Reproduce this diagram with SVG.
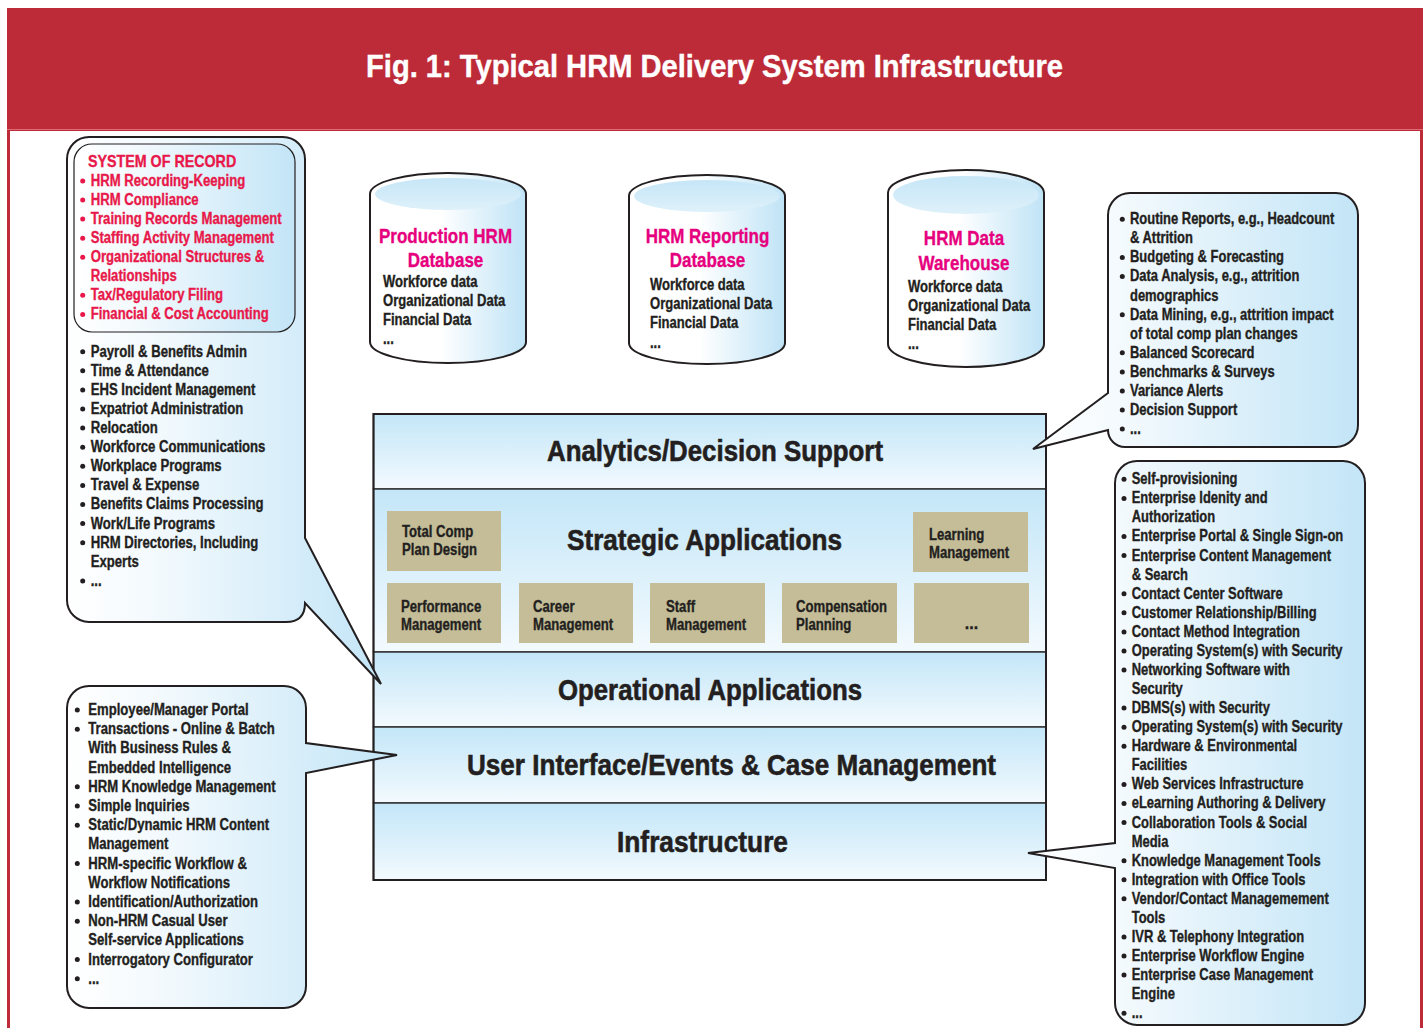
<svg xmlns="http://www.w3.org/2000/svg" width="1428" height="1028" viewBox="0 0 1428 1028">
<defs>
<linearGradient id="gCo" x1="0" y1="0" x2="1" y2="0"><stop offset="0" stop-color="#ffffff"/><stop offset="0.3" stop-color="#f2f9fd"/><stop offset="1" stop-color="#c3e5f7"/></linearGradient>
<linearGradient id="gCyl" x1="0" y1="0" x2="1" y2="0"><stop offset="0" stop-color="#ffffff"/><stop offset="0.45" stop-color="#ffffff"/><stop offset="1" stop-color="#bfe3f6"/></linearGradient>
<linearGradient id="gTop" x1="0" y1="0" x2="0" y2="1"><stop offset="0" stop-color="#c6e6f7"/><stop offset="1" stop-color="#def1fa"/></linearGradient>
<linearGradient id="gBand" x1="0" y1="0" x2="0" y2="1"><stop offset="0" stop-color="#c3e6f8"/><stop offset="1" stop-color="#f3fafe"/></linearGradient>
<style>
.t{font-family:'Liberation Sans',Arial,sans-serif;font-weight:bold;font-size:16px;fill:#231f20;stroke:#231f20;stroke-width:0.35}
.sor{fill:#e8194a;stroke:#e8194a}
.mag{fill:#e6007e;stroke:#e6007e;font-size:21px}
.big{font-size:30px;text-anchor:middle;stroke-width:0.6}
.mid{text-anchor:middle}
.title{font-family:'Liberation Sans',Arial,sans-serif;font-weight:bold;font-size:31px;fill:#ffffff;stroke:#ffffff;stroke-width:0.4;text-anchor:middle}
.co{fill:url(#gCo);stroke:#231f20;stroke-width:2;stroke-linejoin:miter}
.cyl{fill:url(#gCyl);stroke:#231f20;stroke-width:2}
.cyltop{fill:url(#gTop)}
.band{fill:url(#gBand);stroke:#333333;stroke-width:1.5}
.box{fill:#c4bd97}
.b{fill:#231f20}
.bs{fill:#e8194a}
</style>
</defs>

<!-- frame and title -->
<g id="frame">
<rect x="7" y="8" width="1416" height="1030" fill="#be2b38"/>
<rect x="10" y="131" width="1410" height="910" fill="#ffffff"/>
<line x1="7" y1="129.5" x2="1423" y2="129.5" stroke="#dd6a74" stroke-width="1"/>
<text class="title" x="714.5" y="77" textLength="697" lengthAdjust="spacingAndGlyphs">Fig. 1: Typical HRM Delivery System Infrastructure</text>
</g>

<!-- cylinders -->
<g id="db-production">
<path class="cyl" d="M370,194 A78,21 0 0,1 526,194 V342 A78,21 0 0,1 370,342 Z"/>
<ellipse class="cyltop" cx="448" cy="194" rx="73" ry="16"/>
<g transform="translate(445.5,0) scale(0.81,1)">
<text class="t mag mid" x="0" y="242.7">Production HRM</text>
<text class="t mag mid" x="0" y="267.3">Database</text>
</g>
<g transform="translate(383,0) scale(0.815,1)">
<text class="t" x="0" y="286.7">Workforce data</text>
<text class="t" x="0" y="305.7">Organizational Data</text>
<text class="t" x="0" y="325">Financial Data</text>
<text class="t" x="0" y="344">...</text>
</g>
</g>

<g id="db-reporting">
<path class="cyl" d="M629,196 A78,21 0 0,1 785,196 V343 A78,21 0 0,1 629,343 Z"/>
<ellipse class="cyltop" cx="707" cy="196" rx="73" ry="16"/>
<g transform="translate(707.5,0) scale(0.81,1)">
<text class="t mag mid" x="0" y="242.7">HRM Reporting</text>
<text class="t mag mid" x="0" y="267.3">Database</text>
</g>
<g transform="translate(650,0) scale(0.815,1)">
<text class="t" x="0" y="290">Workforce data</text>
<text class="t" x="0" y="308.7">Organizational Data</text>
<text class="t" x="0" y="327.7">Financial Data</text>
<text class="t" x="0" y="347.7">...</text>
</g>
</g>

<g id="db-warehouse">
<path class="cyl" d="M888,193 A78,23 0 0,1 1044,193 V344 A78,23 0 0,1 888,344 Z"/>
<ellipse class="cyltop" cx="966" cy="195" rx="73" ry="19"/>
<g transform="translate(964,0) scale(0.81,1)">
<text class="t mag mid" x="0" y="245">HRM Data</text>
<text class="t mag mid" x="0" y="270">Warehouse</text>
</g>
<g transform="translate(908,0) scale(0.815,1)">
<text class="t" x="0" y="292">Workforce data</text>
<text class="t" x="0" y="311.5">Organizational Data</text>
<text class="t" x="0" y="330.5">Financial Data</text>
<text class="t" x="0" y="349">...</text>
</g>
</g>

<!-- layered stack -->
<g id="layer-analytics">
<rect class="band" x="373.5" y="414" width="672.5" height="75"/>
<text class="t big" x="715" y="461" textLength="336" lengthAdjust="spacingAndGlyphs">Analytics/Decision Support</text>
</g>
<g id="layer-strategic">
<rect class="band" x="373.5" y="489" width="672.5" height="163"/>
<text class="t big" x="704.5" y="550" textLength="275" lengthAdjust="spacingAndGlyphs">Strategic Applications</text>
<g id="app-totalcomp">
<rect class="box" x="387" y="511" width="114" height="60"/>
<g transform="translate(402,0) scale(0.82,1)"><text class="t" x="0" y="536.7">Total Comp</text><text class="t" x="0" y="555">Plan Design</text></g>
</g>
<g id="app-learning">
<rect class="box" x="913" y="512" width="115" height="60"/>
<g transform="translate(929,0) scale(0.82,1)"><text class="t" x="0" y="540">Learning</text><text class="t" x="0" y="558.5">Management</text></g>
</g>
<g id="app-performance">
<rect class="box" x="387" y="583" width="114" height="60"/>
<g transform="translate(401,0) scale(0.82,1)"><text class="t" x="0" y="611.7">Performance</text><text class="t" x="0" y="630">Management</text></g>
</g>
<g id="app-career">
<rect class="box" x="519" y="583" width="114" height="60"/>
<g transform="translate(533,0) scale(0.82,1)"><text class="t" x="0" y="611.7">Career</text><text class="t" x="0" y="630">Management</text></g>
</g>
<g id="app-staff">
<rect class="box" x="650" y="583" width="115" height="60"/>
<g transform="translate(666,0) scale(0.82,1)"><text class="t" x="0" y="611.7">Staff</text><text class="t" x="0" y="630">Management</text></g>
</g>
<g id="app-compensation">
<rect class="box" x="782" y="583" width="115" height="60"/>
<g transform="translate(796,0) scale(0.82,1)"><text class="t" x="0" y="611.7">Compensation</text><text class="t" x="0" y="630">Planning</text></g>
</g>
<g id="app-more">
<rect class="box" x="914" y="583" width="115" height="60"/>
<text class="t mid" x="971.5" y="629">...</text>
</g>
</g>
<g id="layer-operational">
<rect class="band" x="373.5" y="652" width="672.5" height="75"/>
<text class="t big" x="710" y="700" textLength="304" lengthAdjust="spacingAndGlyphs">Operational Applications</text>
</g>
<g id="layer-ui">
<rect class="band" x="373.5" y="727" width="672.5" height="76"/>
<text class="t big" x="731.5" y="774.5" textLength="529" lengthAdjust="spacingAndGlyphs">User Interface/Events &amp; Case Management</text>
</g>
<g id="layer-infrastructure">
<rect class="band" x="373.5" y="803" width="672.5" height="77"/>
<text class="t big" x="702.5" y="852" textLength="171" lengthAdjust="spacingAndGlyphs">Infrastructure</text>
</g>
<rect x="373.5" y="414" width="672.5" height="466" fill="none" stroke="#231f20" stroke-width="2"/>

<!-- callouts (tails act as connectors) -->
<g id="callout-operational">
<path class="co" d="M89,137 H283 A22,22 0 0,1 305,159 V538 L381,684 L305,603 Q305,622 286,622 H89 A22,22 0 0,1 67,600 V159 A22,22 0 0,1 89,137 Z"/>
<rect x="74" y="144" width="221" height="188" rx="18" ry="18" fill="url(#gCo)" stroke="#231f20" stroke-width="1.2"/>
<g transform="translate(88,0) scale(0.81,1)">
<text class="t sor" x="0" y="166.7" textLength="183" lengthAdjust="spacingAndGlyphs" style="font-size:16.5px">SYSTEM OF RECORD</text>
</g>
<g class="bs">
<circle cx="82.7" cy="181" r="2.5"/><circle cx="82.7" cy="200" r="2.5"/><circle cx="82.7" cy="219.1" r="2.5"/><circle cx="82.7" cy="238.2" r="2.5"/><circle cx="82.7" cy="257.2" r="2.5"/><circle cx="82.7" cy="295.3" r="2.5"/><circle cx="82.7" cy="314.4" r="2.5"/>
</g>
<g transform="translate(90.7,0) scale(0.82,1)">
<text class="t sor" x="0" y="186">HRM Recording-Keeping</text>
<text class="t sor" x="0" y="205">HRM Compliance</text>
<text class="t sor" x="0" y="224.1">Training Records Management</text>
<text class="t sor" x="0" y="243.2">Staffing Activity Management</text>
<text class="t sor" x="0" y="262.2">Organizational Structures &amp;</text>
<text class="t sor" x="0" y="281.3">Relationships</text>
<text class="t sor" x="0" y="300.3">Tax/Regulatory Filing</text>
<text class="t sor" x="0" y="319.4">Financial &amp; Cost Accounting</text>
</g>
<g class="b">
<circle cx="82.7" cy="351.7" r="2.5"/><circle cx="82.7" cy="370.8" r="2.5"/><circle cx="82.7" cy="389.9" r="2.5"/><circle cx="82.7" cy="409" r="2.5"/><circle cx="82.7" cy="428.1" r="2.5"/><circle cx="82.7" cy="447.2" r="2.5"/><circle cx="82.7" cy="466.3" r="2.5"/><circle cx="82.7" cy="485.4" r="2.5"/><circle cx="82.7" cy="504.5" r="2.5"/><circle cx="82.7" cy="523.6" r="2.5"/><circle cx="82.7" cy="542.7" r="2.5"/><circle cx="82.7" cy="580.9" r="2.5"/>
</g>
<g transform="translate(90.7,0) scale(0.82,1)">
<text class="t" x="0" y="356.7">Payroll &amp; Benefits Admin</text>
<text class="t" x="0" y="375.8">Time &amp; Attendance</text>
<text class="t" x="0" y="394.9">EHS Incident Management</text>
<text class="t" x="0" y="414">Expatriot Administration</text>
<text class="t" x="0" y="433.1">Relocation</text>
<text class="t" x="0" y="452.2">Workforce Communications</text>
<text class="t" x="0" y="471.3">Workplace Programs</text>
<text class="t" x="0" y="490.4">Travel &amp; Expense</text>
<text class="t" x="0" y="509.5">Benefits Claims Processing</text>
<text class="t" x="0" y="528.6">Work/Life Programs</text>
<text class="t" x="0" y="547.7">HRM Directories, Including</text>
<text class="t" x="0" y="566.8">Experts</text>
<text class="t" x="0" y="585.9">...</text>
</g>
</g>

<g id="callout-analytics">
<path class="co" d="M1130,193 H1336 A22,22 0 0,1 1358,215 V425 A22,22 0 0,1 1336,447 H1125 A17,17 0 0,1 1108,430 L1033,449 L1108,393 V215 A22,22 0 0,1 1130,193 Z"/>
<g class="b">
<circle cx="1122.3" cy="219.3" r="2.5"/><circle cx="1122.3" cy="257.4" r="2.5"/><circle cx="1122.3" cy="276.5" r="2.5"/><circle cx="1122.3" cy="314.7" r="2.5"/><circle cx="1122.3" cy="352.8" r="2.5"/><circle cx="1122.3" cy="371.9" r="2.5"/><circle cx="1122.3" cy="390.9" r="2.5"/><circle cx="1122.3" cy="410" r="2.5"/><circle cx="1122.3" cy="429.1" r="2.5"/>
</g>
<g transform="translate(1130,0) scale(0.81,1)">
<text class="t" x="0" y="224.3">Routine Reports, e.g., Headcount</text>
<text class="t" x="0" y="243.4">&amp; Attrition</text>
<text class="t" x="0" y="262.4">Budgeting &amp; Forecasting</text>
<text class="t" x="0" y="281.5">Data Analysis, e.g., attrition</text>
<text class="t" x="0" y="300.6">demographics</text>
<text class="t" x="0" y="319.7">Data Mining, e.g., attrition impact</text>
<text class="t" x="0" y="338.7">of total comp plan changes</text>
<text class="t" x="0" y="357.8">Balanced Scorecard</text>
<text class="t" x="0" y="376.9">Benchmarks &amp; Surveys</text>
<text class="t" x="0" y="395.9">Variance Alerts</text>
<text class="t" x="0" y="415">Decision Support</text>
<text class="t" x="0" y="434.1">...</text>
</g>
</g>

<g id="callout-ui">
<path class="co" d="M89,686 H284 A22,22 0 0,1 306,708 V743 L397,755 L306,773 V986 A22,22 0 0,1 284,1008 H89 A22,22 0 0,1 67,986 V708 A22,22 0 0,1 89,686 Z"/>
<g class="b">
<circle cx="77.3" cy="710" r="2.5"/><circle cx="77.3" cy="729.2" r="2.5"/><circle cx="77.3" cy="786.8" r="2.5"/><circle cx="77.3" cy="806" r="2.5"/><circle cx="77.3" cy="825.2" r="2.5"/><circle cx="77.3" cy="863.6" r="2.5"/><circle cx="77.3" cy="902" r="2.5"/><circle cx="77.3" cy="921.2" r="2.5"/><circle cx="77.3" cy="959.6" r="2.5"/><circle cx="77.3" cy="978.8" r="2.5"/>
</g>
<g transform="translate(88.3,0) scale(0.82,1)">
<text class="t" x="0" y="715">Employee/Manager Portal</text>
<text class="t" x="0" y="734.2">Transactions - Online &amp; Batch</text>
<text class="t" x="0" y="753.4">With Business Rules &amp;</text>
<text class="t" x="0" y="772.6">Embedded Intelligence</text>
<text class="t" x="0" y="791.8">HRM Knowledge Management</text>
<text class="t" x="0" y="811">Simple Inquiries</text>
<text class="t" x="0" y="830.2">Static/Dynamic HRM Content</text>
<text class="t" x="0" y="849.4">Management</text>
<text class="t" x="0" y="868.6">HRM-specific Workflow &amp;</text>
<text class="t" x="0" y="887.8">Workflow Notifications</text>
<text class="t" x="0" y="907">Identification/Authorization</text>
<text class="t" x="0" y="926.2">Non-HRM Casual User</text>
<text class="t" x="0" y="945.4">Self-service Applications</text>
<text class="t" x="0" y="964.6">Interrogatory Configurator</text>
<text class="t" x="0" y="983.8">...</text>
</g>
</g>

<g id="callout-infrastructure">
<path class="co" d="M1137,461 H1343 A22,22 0 0,1 1365,483 V1003 A22,22 0 0,1 1343,1025 H1137 A22,22 0 0,1 1115,1003 V868 L1028,853 L1115,843 V483 A22,22 0 0,1 1137,461 Z"/>
<g class="b">
<circle cx="1124" cy="479.3" r="2.5"/><circle cx="1124" cy="498.4" r="2.5"/><circle cx="1124" cy="536.5" r="2.5"/><circle cx="1124" cy="555.6" r="2.5"/><circle cx="1124" cy="593.7" r="2.5"/><circle cx="1124" cy="612.8" r="2.5"/><circle cx="1124" cy="631.9" r="2.5"/><circle cx="1124" cy="650.9" r="2.5"/><circle cx="1124" cy="670" r="2.5"/><circle cx="1124" cy="708.1" r="2.5"/><circle cx="1124" cy="727.2" r="2.5"/><circle cx="1124" cy="746.3" r="2.5"/><circle cx="1124" cy="784.4" r="2.5"/><circle cx="1124" cy="803.5" r="2.5"/><circle cx="1124" cy="822.6" r="2.5"/><circle cx="1124" cy="860.7" r="2.5"/><circle cx="1124" cy="879.8" r="2.5"/><circle cx="1124" cy="898.8" r="2.5"/><circle cx="1124" cy="937" r="2.5"/><circle cx="1124" cy="956.1" r="2.5"/><circle cx="1124" cy="975.1" r="2.5"/><circle cx="1124" cy="1013.3" r="2.5"/>
</g>
<g transform="translate(1131.7,0) scale(0.81,1)">
<text class="t" x="0" y="484.3">Self-provisioning</text>
<text class="t" x="0" y="503.4">Enterprise Idenity and</text>
<text class="t" x="0" y="522.4">Authorization</text>
<text class="t" x="0" y="541.5">Enterprise Portal &amp; Single Sign-on</text>
<text class="t" x="0" y="560.6">Enterprise Content Management</text>
<text class="t" x="0" y="579.7">&amp; Search</text>
<text class="t" x="0" y="598.7">Contact Center Software</text>
<text class="t" x="0" y="617.8">Customer Relationship/Billing</text>
<text class="t" x="0" y="636.9">Contact Method Integration</text>
<text class="t" x="0" y="655.9">Operating System(s) with Security</text>
<text class="t" x="0" y="675">Networking Software with</text>
<text class="t" x="0" y="694.1">Security</text>
<text class="t" x="0" y="713.1">DBMS(s) with Security</text>
<text class="t" x="0" y="732.2">Operating System(s) with Security</text>
<text class="t" x="0" y="751.3">Hardware &amp; Environmental</text>
<text class="t" x="0" y="770.4">Facilities</text>
<text class="t" x="0" y="789.4">Web Services Infrastructure</text>
<text class="t" x="0" y="808.5">eLearning Authoring &amp; Delivery</text>
<text class="t" x="0" y="827.6">Collaboration Tools &amp; Social</text>
<text class="t" x="0" y="846.6">Media</text>
<text class="t" x="0" y="865.7">Knowledge Management Tools</text>
<text class="t" x="0" y="884.8">Integration with Office Tools</text>
<text class="t" x="0" y="903.8">Vendor/Contact Managemement</text>
<text class="t" x="0" y="922.9">Tools</text>
<text class="t" x="0" y="942">IVR &amp; Telephony Integration</text>
<text class="t" x="0" y="961.1">Enterprise Workflow Engine</text>
<text class="t" x="0" y="980.1">Enterprise Case Management</text>
<text class="t" x="0" y="999.2">Engine</text>
<text class="t" x="0" y="1018.3">...</text>
</g>
</g>

<g id="connectors"></g>
</svg>
